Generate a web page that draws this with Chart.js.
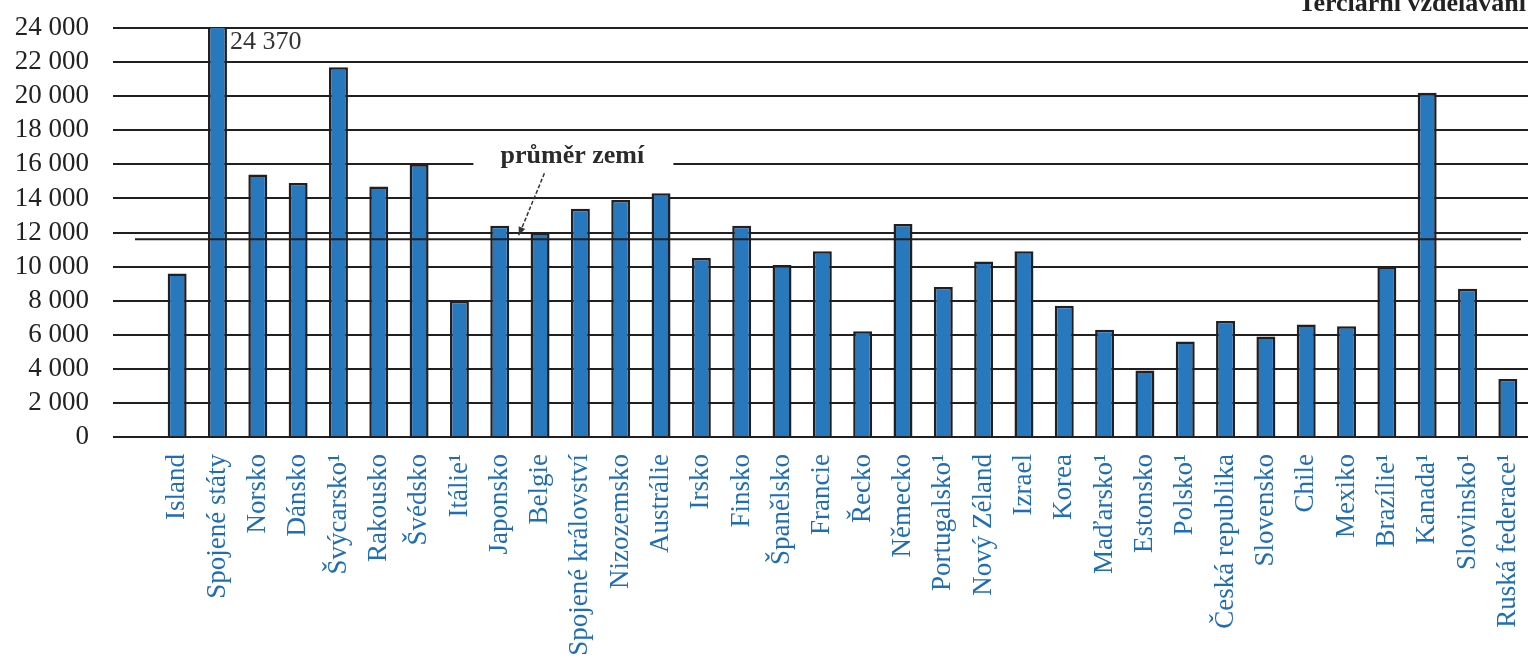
<!DOCTYPE html>
<html>
<head>
<meta charset="utf-8">
<script src="https://cdn.jsdelivr.net/npm/chart.js@4.4.1/dist/chart.umd.min.js"></script>
<style>
  html, body { margin: 0; padding: 0; background: #fff; }
  #wrap { width: 1528px; height: 664px; position: relative; }
</style>
</head>
<body>
<div id="wrap"><canvas id="chart"></canvas></div>
<script>
// výdaje na studenta, terciární vzdělávání
const countries = [
  "Island", "Spojené státy", "Norsko", "Dánsko", "Švýcarsko¹", "Rakousko",
  "Švédsko", "Itálie¹", "Japonsko", "Belgie", "Spojené království", "Nizozemsko",
  "Austrálie", "Irsko", "Finsko", "Španělsko", "Francie", "Řecko", "Německo",
  "Portugalsko¹", "Nový Zéland", "Izrael", "Korea", "Maďarsko¹", "Estonsko",
  "Polsko¹", "Česká republika", "Slovensko", "Chile", "Mexiko", "Brazílie¹",
  "Kanada¹", "Slovinsko¹", "Ruská federace¹"
];
const spending = [
  9600, 24370, 15400, 14900, 21700, 14700,
  16000, 8000, 12400, 12000, 13400, 13900,
  14300, 10500, 12400, 10100, 10900, 6200, 12500,
  8800, 10300, 10900, 7700, 6300, 3900,
  5600, 6800, 5900, 6600, 6500, 10000,
  20200, 8700, 3400
];
const yTicks = [0, 2000, 4000, 6000, 8000, 10000, 12000, 14000, 16000, 18000, 20000, 22000, 24000];
const average = 11600;
const averageLabel = "průměr zemí";
const headerRight = "Terciární vzdělávání";

const ink = "#231f20";
const barBlue = "#2878be";
const labelBlue = "#1f6db4";

function fmt(v) {
  return String(v).replace(/\B(?=(\d{3})+(?!\d))/g, " ");
}

const extras = {
  id: "extras",
  afterDatasetsDraw(chart) {
    const ctx = chart.ctx;
    const x = chart.scales.x;
    const y = chart.scales.y;
    const area = chart.chartArea;
    ctx.save();

    // průměrná linie
    const ay = y.getPixelForValue(average);
    ctx.strokeStyle = ink;
    ctx.lineWidth = 2;
    ctx.beginPath();
    ctx.moveTo(area.left - 22, ay);
    ctx.lineTo(area.right - 7, ay);
    ctx.stroke();

    // popisek průměru
    const ly = y.getPixelForValue(16000);
    const lx = x.getPixelForValue(10) - 8;
    ctx.font = "bold 26px 'Liberation Serif'";
    ctx.fillStyle = "#fff";
    ctx.fillRect(lx - 99, ly - 6, 200, 12);
    ctx.fillStyle = "#2b2b2b";
    ctx.textAlign = "center";
    ctx.textBaseline = "alphabetic";
    ctx.fillText(averageLabel, lx, ly - 1);

    // šipka
    const x1 = lx - 28, y1 = ly + 9;
    const x2 = x.getPixelForValue(8) + 19, y2 = ay - 4;
    ctx.strokeStyle = "#333";
    ctx.lineWidth = 1.5;
    ctx.setLineDash([4, 2]);
    ctx.beginPath();
    ctx.moveTo(x1, y1);
    ctx.lineTo(x2, y2);
    ctx.stroke();
    ctx.setLineDash([]);
    const ang = Math.atan2(y2 - y1, x2 - x1);
    ctx.fillStyle = "#333";
    ctx.beginPath();
    ctx.moveTo(x2, y2);
    ctx.lineTo(x2 - 9 * Math.cos(ang - 0.4), y2 - 9 * Math.sin(ang - 0.4));
    ctx.lineTo(x2 - 9 * Math.cos(ang + 0.4), y2 - 9 * Math.sin(ang + 0.4));
    ctx.closePath();
    ctx.fill();

    // hodnota přesahující osu
    const meta = chart.getDatasetMeta(0);
    spending.forEach((v, i) => {
      if (v > y.max) {
        const bar = meta.data[i];
        ctx.font = "26px 'Liberation Serif'";
        ctx.fillStyle = "#333";
        ctx.textAlign = "left";
        ctx.textBaseline = "top";
        ctx.fillText(fmt(v), bar.x + bar.width / 2 + 3, area.top + 1);
      }
    });

    // záhlaví (oříznuté)
    ctx.font = "bold 26px 'Liberation Serif'";
    ctx.fillStyle = "#222";
    ctx.textAlign = "right";
    ctx.textBaseline = "alphabetic";
    ctx.fillText(headerRight, chart.width - 2, 11);

    ctx.restore();
  }
};

new Chart(document.getElementById("chart"), {
  type: "bar",
  data: {
    labels: countries,
    datasets: [{
      data: spending,
      backgroundColor: barBlue,
      borderColor: ink,
      borderWidth: 2.5,
      borderSkipped: "bottom",
      barPercentage: 0.47,
      categoryPercentage: 1
    }]
  },
  options: {
    responsive: true,
    maintainAspectRatio: false,
    animation: false,
    layout: { padding: { top: 28, right: 0, left: 0, bottom: 0 } },
    plugins: {
      legend: { display: false },
      tooltip: { enabled: false }
    },
    scales: {
      x: {
        grid: { display: false, drawTicks: false },
        border: { display: false },
        ticks: {
          color: labelBlue,
          font: { family: "'Liberation Serif'", size: 27 },
          minRotation: 90,
          maxRotation: 90,
          autoSkip: false,
          padding: 17
        },
        afterFit(scale) {
          scale.height = 227;
          scale.paddingLeft = 0;
          scale.paddingRight = 0;
        }
      },
      y: {
        min: 0,
        max: 24000,
        afterBuildTicks(scale) { scale.ticks = yTicks.map(v => ({ value: v })); },
        grid: { color: ink, lineWidth: 2, drawTicks: true, tickLength: 44, tickColor: ink },
        border: { display: false },
        ticks: {
          color: "#222",
          autoSkip: false,
          font: { family: "'Liberation Serif'", size: 27 },
          padding: 24,
          callback: v => fmt(v)
        },
        afterFit(scale) {
          scale.width = 157;
          scale.paddingTop = 0;
          scale.paddingBottom = 0;
        }
      }
    }
  },
  plugins: [extras]
});
</script>
</body>
</html>
